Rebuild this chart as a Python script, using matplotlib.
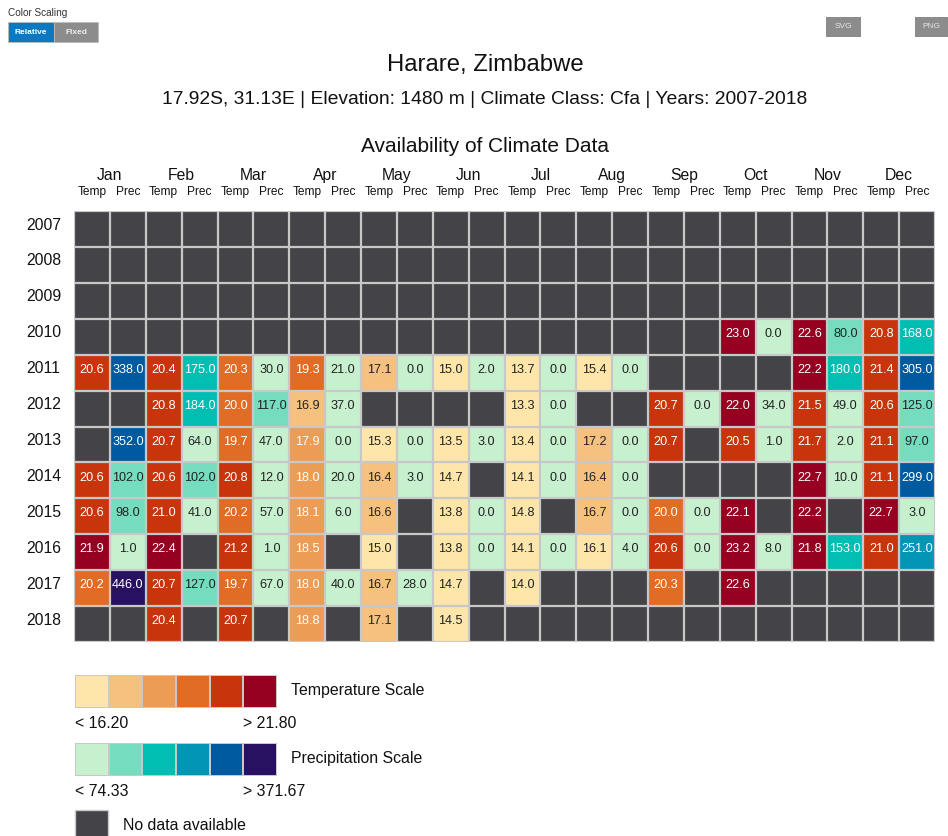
import numpy as np
import matplotlib
matplotlib.use('Agg')
import matplotlib.pyplot as plt
from matplotlib.colors import ListedColormap, BoundaryNorm
from matplotlib.patches import Rectangle

plt.rcParams['font.family'] = ['Liberation Sans', 'DejaVu Sans']

# Data: monthly mean temperature (C) and precipitation (mm), None = no data
years = [2007, 2008, 2009, 2010, 2011, 2012, 2013, 2014, 2015, 2016, 2017, 2018]
months = ['Jan', 'Feb', 'Mar', 'Apr', 'May', 'Jun',
          'Jul', 'Aug', 'Sep', 'Oct', 'Nov', 'Dec']
N = None

temp = [
    [N, N, N, N, N, N, N, N, N, N, N, N],
    [N, N, N, N, N, N, N, N, N, N, N, N],
    [N, N, N, N, N, N, N, N, N, N, N, N],
    [N, N, N, N, N, N, N, N, N, 23.0, 22.6, 20.8],
    [20.6, 20.4, 20.3, 19.3, 17.1, 15.0, 13.7, 15.4, N, N, 22.2, 21.4],
    [N, 20.8, 20.0, 16.9, N, N, 13.3, N, 20.7, 22.0, 21.5, 20.6],
    [N, 20.7, 19.7, 17.9, 15.3, 13.5, 13.4, 17.2, 20.7, 20.5, 21.7, 21.1],
    [20.6, 20.6, 20.8, 18.0, 16.4, 14.7, 14.1, 16.4, N, N, 22.7, 21.1],
    [20.6, 21.0, 20.2, 18.1, 16.6, 13.8, 14.8, 16.7, 20.0, 22.1, 22.2, 22.7],
    [21.9, 22.4, 21.2, 18.5, 15.0, 13.8, 14.1, 16.1, 20.6, 23.2, 21.8, 21.0],
    [20.2, 20.7, 19.7, 18.0, 16.7, 14.7, 14.0, N, 20.3, 22.6, N, N],
    [N, 20.4, 20.7, 18.8, 17.1, 14.5, N, N, N, N, N, N],
]

prec = [
    [N, N, N, N, N, N, N, N, N, N, N, N],
    [N, N, N, N, N, N, N, N, N, N, N, N],
    [N, N, N, N, N, N, N, N, N, N, N, N],
    [N, N, N, N, N, N, N, N, N, 0.0, 80.0, 168.0],
    [338.0, 175.0, 30.0, 21.0, 0.0, 2.0, 0.0, 0.0, N, N, 180.0, 305.0],
    [N, 184.0, 117.0, 37.0, N, N, 0.0, N, 0.0, 34.0, 49.0, 125.0],
    [352.0, 64.0, 47.0, 0.0, 0.0, 3.0, 0.0, 0.0, N, 1.0, 2.0, 97.0],
    [102.0, 102.0, 12.0, 20.0, 3.0, N, 0.0, 0.0, N, N, 10.0, 299.0],
    [98.0, 41.0, 57.0, 6.0, N, 0.0, N, 0.0, 0.0, N, N, 3.0],
    [1.0, N, 1.0, N, N, 0.0, 0.0, 4.0, 0.0, 8.0, 153.0, 251.0],
    [446.0, 127.0, 67.0, 40.0, 28.0, N, N, N, N, N, N, N],
    [N, N, N, N, N, N, N, N, N, N, N, N],
]

temp_colors = ['#FEE6AA', '#F6C17F', '#ED9C56', '#E06C25', '#C8350D', '#960021']
prec_colors = ['#C7F0CE', '#76DCBF', '#00BFB2', '#0096B4', '#005AA0', '#271160']
nodata_color = '#434348'
grid_color = '#C8C8C8'

T = np.array(temp, dtype=float)
P = np.array(prec, dtype=float)

temp_bounds = np.linspace(16.2, 21.8, 5)
prec_bounds = np.linspace(0, 446.0, 7)[1:-1]

temp_cmap = ListedColormap(temp_colors)
prec_cmap = ListedColormap(prec_colors)
temp_norm = BoundaryNorm(temp_bounds, 6, extend='both')
prec_norm = BoundaryNorm(prec_bounds, 6, extend='both')

W, H = 948, 836
fig = plt.figure(figsize=(W / 100, H / 100), dpi=100)


def fx(px):
    return px / W


def fy(py):
    return 1 - py / H


# main grid
ax = fig.add_axes([fx(74), fy(642), fx(935) - fx(74), fy(211) - fy(642)])
ax.set_facecolor(nodata_color)

nrow, ncol = len(years), len(months) * 2
xe = np.arange(ncol + 1)
ye = np.arange(nrow + 1)

T_full = np.full((nrow, ncol), np.nan)
P_full = np.full((nrow, ncol), np.nan)
T_full[:, 0::2] = T
P_full[:, 1::2] = P

ax.pcolormesh(xe, ye, np.ma.masked_invalid(T_full), cmap=temp_cmap, norm=temp_norm)
ax.pcolormesh(xe, ye, np.ma.masked_invalid(P_full), cmap=prec_cmap, norm=prec_norm)

ax.hlines(ye, 0, ncol, color=grid_color, lw=1.6)
ax.vlines(xe, 0, nrow, color=grid_color, lw=1.6)

ax.set_xlim(0, ncol)
ax.set_ylim(nrow, 0)
ax.set_xticks([])
ax.set_yticks([])
for s in ax.spines.values():
    s.set_visible(False)

# cell values
for i in range(nrow):
    for j in range(len(months)):
        t = T[i, j]
        if not np.isnan(t):
            b = int(np.digitize(t, temp_bounds))
            c = '#222222' if b < 2 else 'white'
            ax.text(2 * j + 0.5, i + 0.42, f'{t:.1f}', ha='center', va='center',
                    fontsize=9.1, color=c)
        p = P[i, j]
        if not np.isnan(p):
            b = int(np.digitize(p, prec_bounds))
            c = '#222222' if b < 2 else 'white'
            ax.text(2 * j + 1.5, i + 0.42, f'{p:.1f}', ha='center', va='center',
                    fontsize=9.1, color=c)

# header labels
for j, m in enumerate(months):
    ax.text(2 * j + 1, -0.98, m, ha='center', va='center', fontsize=11.3,
            color='#111111', clip_on=False)
    ax.text(2 * j + 0.5, -0.52, 'Temp', ha='center', va='center', fontsize=8.6,
            color='#111111', clip_on=False)
    ax.text(2 * j + 1.5, -0.52, 'Prec', ha='center', va='center', fontsize=8.6,
            color='#111111', clip_on=False)

for i, y in enumerate(years):
    ax.text(-0.85, i + 0.39, str(y), ha='center', va='center', fontsize=11.3,
            color='#111111', clip_on=False)

# titles
cx = fx(485)
fig.text(cx, fy(65.5), 'Harare, Zimbabwe', ha='center', va='center', fontsize=17.2,
         color='#111111')
fig.text(cx, fy(99), '17.92S, 31.13E | Elevation: 1480 m | Climate Class: Cfa | Years: 2007-2018',
         ha='center', va='center', fontsize=13.9, color='#111111')
fig.text(cx, fy(146), 'Availability of Climate Data', ha='center', va='center',
         fontsize=15, color='#111111')

# legend scales
for top, cmap, bounds, name in [(675, temp_cmap, temp_bounds, 'Temperature Scale'),
                                (743, prec_cmap, prec_bounds, 'Precipitation Scale')]:
    lax = fig.add_axes([fx(75), fy(top + 33), fx(277) - fx(75), fy(top) - fy(top + 33)])
    lax.pcolormesh(np.arange(7), [0, 1], np.arange(6)[None, :], cmap=cmap,
                   vmin=-0.5, vmax=5.5, edgecolors=grid_color, linewidth=1.2)
    lax.set_xlim(0, 6)
    lax.set_ylim(0, 1)
    lax.axis('off')
    fig.text(fx(291), fy(top + 15), name, ha='left', va='center', fontsize=11.4,
             color='#111111')
    fig.text(fx(75), fy(top + 48), f'< {bounds[0]:.2f}', ha='left', va='center',
             fontsize=11.4, color='#111111')
    fig.text(fx(243), fy(top + 48), f'> {bounds[-1]:.2f}', ha='left', va='center',
             fontsize=11.4, color='#111111')

fig.patches.append(Rectangle((fx(75), fy(843)), fx(108) - fx(75), fy(810) - fy(843),
                             transform=fig.transFigure, facecolor=nodata_color,
                             edgecolor=grid_color, lw=1))
fig.text(fx(123), fy(826), 'No data available', ha='left', va='center',
         fontsize=11.4, color='#111111')

# control buttons
fig.text(fx(8), fy(13), 'Color Scaling', ha='left', va='center', fontsize=7.2,
         color='#333333')
buttons = [(8, 54, 'Relative', '#0A79C1', 'white'),
           (54, 98, 'Fixed', '#8C8C8C', '#EEEEEE')]
for x0, x1, label, fc, tc in buttons:
    fig.patches.append(Rectangle((fx(x0), fy(42)), fx(x1) - fx(x0), fy(22) - fy(42),
                                 transform=fig.transFigure, facecolor=fc,
                                 edgecolor='#BBBBBB', lw=0.6))
    fig.text((fx(x0) + fx(x1)) / 2, fy(32.5), label, ha='center', va='center',
             fontsize=6, color=tc, fontweight='bold')

for x0, x1, label in [(826, 861, 'SVG'), (915, 948, 'PNG')]:
    fig.patches.append(Rectangle((fx(x0), fy(37)), fx(x1) - fx(x0), fy(17) - fy(37),
                                 transform=fig.transFigure, facecolor='#8C8C8C',
                                 edgecolor='none'))
    fig.text((fx(x0) + fx(x1)) / 2, fy(27), label, ha='center', va='center',
             fontsize=6, color='#E6E6E6')

fig.savefig('out.png', dpi=100)
